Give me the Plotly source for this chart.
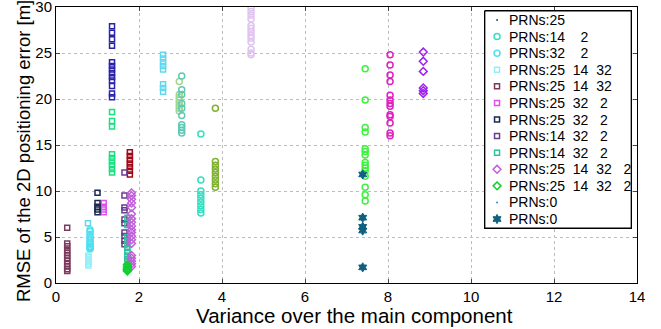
import plotly.graph_objects as go

NB = "\u00a0"

# ---- data ----
# series that appear in the legend
x_prn25 = []
y_prn25 = []
x_prn14_2 = [3.49] * 9
y_prn14_2 = [16.2, 11.2, 10.0, 9.6, 9.2, 8.8, 8.4, 8.0, 7.6]
x_prn32_2 = [0.82] * 12
y_prn32_2 = [5.8, 5.6, 5.3, 5.0, 4.8, 4.6, 4.4, 4.2, 4.0, 3.9, 3.8, 3.7]
x_prn25_14_32a = [0.78] * 6
y_prn25_14_32a = [3.0, 2.8, 2.6, 2.3, 2.1, 1.9]
x_prn25_14_32b = [0.27] * 12
y_prn25_14_32b = [6.0, 4.3, 4.0, 3.6, 3.3, 3.0, 2.7, 2.4, 2.1, 1.8, 1.5, 1.3]
x_prn25_32_2a = [1.15] * 4
y_prn25_32_2a = [8.7, 8.3, 8.0, 7.7]
x_prn25_32_2b = [1.0] * 5
y_prn25_32_2b = [9.8, 8.7, 8.3, 8.0, 7.7]
x_prn14_32_2a = [1.65] * 10
y_prn14_32_2a = [12.0, 9.5, 8.2, 7.9, 6.9, 6.5, 5.5, 5.1, 4.6, 4.2]
x_prn14_32_2b = [1.72] * 10
y_prn14_32_2b = [7.1, 6.3, 5.0, 4.6, 4.2, 3.8, 3.4, 3.0, 2.6, 2.3]
x_prn_all_a = [1.82] * 19
y_prn_all_a = [9.8, 9.5, 9.1, 8.7, 8.2, 7.5, 7.0, 6.6, 6.2, 5.8, 5.5, 5.1, 4.7,
               4.3, 3.0, 2.7, 2.4, 2.1, 1.8]
x_prn_all_b = [1.72] * 6
y_prn_all_b = [2.0, 1.8, 1.6, 1.5, 1.4, 1.3]
x_prn0a = []
y_prn0a = []
x_prn0b = [7.39] * 5
y_prn0b = [11.8, 7.1, 6.1, 5.7, 1.7]

# series without a legend entry
x_blue_sq = [1.35] * 13
y_blue_sq = [27.9, 27.2, 26.5, 25.8, 24.0, 23.6, 23.2, 22.8, 22.4, 22.0, 21.4, 20.6, 20.2]
x_green_sq = [1.35] * 9
y_green_sq = [18.6, 17.6, 17.0, 14.0, 13.6, 13.2, 12.8, 12.4, 12.0]
x_red_sq = [1.78] * 7
y_red_sq = [14.2, 13.8, 13.4, 13.0, 12.6, 12.2, 11.8]
x_lcyan_sq = [2.58] * 8 + [0.77]
y_lcyan_sq = [24.8, 24.4, 24.0, 23.6, 23.2, 21.6, 21.2, 20.8, 6.5]
x_lgreen_c = [2.97] * 8
y_lgreen_c = [21.9, 20.5, 20.2, 19.9, 19.6, 19.3, 19.0, 18.7]
x_teal_c = [3.03] * 10
y_teal_c = [22.5, 21.0, 20.5, 19.5, 19.0, 18.2, 17.2, 16.9, 16.6, 16.3]
x_olive_c = [3.84] * 9
y_olive_c = [19.0, 13.2, 12.8, 12.4, 12.0, 11.6, 11.2, 10.8, 10.4]
x_lav_c = [4.70] * 13
y_lav_c = [29.9, 29.5, 29.1, 28.7, 28.0, 27.7, 27.3, 26.9, 26.6, 26.2, 25.4, 25.0, 24.8]
x_green_c = [7.45] * 15
y_green_c = [23.3, 19.9, 16.9, 16.4, 14.6, 14.3, 13.9, 13.1, 12.8, 12.5, 12.2, 11.6,
             10.4, 9.6, 8.9]
x_mag_c = [8.05] * 13
y_mag_c = [24.8, 23.7, 22.6, 21.9, 20.4, 19.9, 19.5, 19.2, 18.3, 18.1, 17.4, 16.3, 16.0]
x_purp_d = [8.85] * 6
y_purp_d = [25.1, 24.1, 23.0, 21.2, 20.9, 20.6]

x_ticks = [0, 2, 4, 6, 8, 10, 12, 14]
y_ticks = [0, 5, 10, 15, 20, 25, 30]
x_title = "Variance over the main component"
y_title = "RMSE of the 2D positioning error [m]"


def lab(*parts_gaps):
    out = ""
    for p in parts_gaps:
        out += NB * p if isinstance(p, int) else p
    return out


# (x, y, legend label or None, color, symbol, size, line width)
unlabelled = [
    (x_blue_sq, y_blue_sq, None, "#2a22a8", "square-open", 5, 1.5),
    (x_green_sq, y_green_sq, None, "#18e080", "square-open", 5, 1.5),
    (x_red_sq, y_red_sq, None, "#a00818", "square-open", 5, 1.5),
    (x_lcyan_sq, y_lcyan_sq, None, "#62d8f0", "square-open", 5, 1.5),
    (x_lgreen_c, y_lgreen_c, None, "#a0d890", "circle-open", 6, 1.5),
    (x_teal_c, y_teal_c, None, "#60c8b4", "circle-open", 6, 1.5),
    (x_olive_c, y_olive_c, None, "#80b030", "circle-open", 6, 1.5),
    (x_lav_c, y_lav_c, None, "#e0c4f0", "circle-open", 6, 1.5),
    (x_green_c, y_green_c, None, "#40f040", "circle-open", 6, 1.5),
    (x_mag_c, y_mag_c, None, "#e020c0", "circle-open", 6, 1.5),
    (x_purp_d, y_purp_d, None, "#a020f0", "diamond-open", 6, 1.5),
]
labelled = [
    (x_prn25, y_prn25, lab("PRNs:25"), "#205058", "circle", 2, 0),
    (x_prn14_2, y_prn14_2, lab("PRNs:14", 4, "2"), "#30e0c0", "circle-open", 6, 1.5),
    (x_prn32_2, y_prn32_2, lab("PRNs:32", 4, "2"), "#50e0f0", "circle-open", 6, 1.5),
    (x_prn25_14_32a, y_prn25_14_32a, lab("PRNs:25", 2, "14", 2, "32"), "#94eef8", "square-open", 5, 1.5),
    (x_prn25_14_32b, y_prn25_14_32b, lab("PRNs:25", 2, "14", 2, "32"), "#7b3a5c", "square-open", 5, 1.5),
    (x_prn25_32_2a, y_prn25_32_2a, lab("PRNs:25", 2, "32", 3, "2"), "#e050f0", "square-open", 5, 1.5),
    (x_prn25_32_2b, y_prn25_32_2b, lab("PRNs:25", 2, "32", 3, "2"), "#1c2850", "square-open", 5, 1.5),
    (x_prn14_32_2a, y_prn14_32_2a, lab("PRNs:14", 2, "32", 3, "2"), "#6a3c90", "square-open", 5, 1.5),
    (x_prn14_32_2b, y_prn14_32_2b, lab("PRNs:14", 2, "32", 3, "2"), "#30c0a0", "square-open", 5, 1.5),
    (x_prn_all_a, y_prn_all_a, lab("PRNs:25", 2, "14", 2, "32", 3, "2"), "#c060d8", "diamond-open", 6, 1.5),
    (x_prn_all_b, y_prn_all_b, lab("PRNs:25", 2, "14", 2, "32", 3, "2"), "#10d030", "diamond-open", 6, 1.5),
    (x_prn0a, y_prn0a, lab("PRNs:0"), "#3090c0", "circle", 2, 0),
    (x_prn0b, y_prn0b, lab("PRNs:0"), "#106080", "hexagram", 7, 1),
]

fig = go.Figure()
for (x, y, name, color, symbol, size, lw) in unlabelled + labelled:
    fig.add_trace(go.Scatter(
        x=x, y=y, mode="markers", name=name or "", showlegend=False,
        marker=dict(symbol=symbol, size=size, color=color,
                    line=dict(color=color, width=lw)),
    ))

# ---- MATLAB-style legend box, drawn on its own small axis pair ----
n_leg = len(labelled)
leg_x0, leg_x1 = 0.7367, 0.9914
leg_y0, leg_y1 = 0.1957, 0.989
ytop, ybot = -0.6, (n_leg - 1) + 0.6
fig.add_trace(go.Scatter(
    x=[0.004, 0.996, 0.996, 0.004, 0.004],
    y=[ytop + 0.05, ytop + 0.05, ybot - 0.05, ybot - 0.05, ytop + 0.05],
    xaxis="x2", yaxis="y2", mode="lines", fill="toself", fillcolor="white",
    line=dict(color="black", width=1.5), showlegend=False, hoverinfo="skip",
))
for i, (x, y, name, color, symbol, size, lw) in enumerate(labelled):
    fig.add_trace(go.Scatter(
        x=[0.088], y=[i], xaxis="x2", yaxis="y2", mode="markers",
        showlegend=False, hoverinfo="skip",
        marker=dict(symbol=symbol, size=size, color=color,
                    line=dict(color=color, width=lw)),
    ))
    fig.add_annotation(
        x=0.155, y=i, xref="x2", yref="y2", text=name, showarrow=False,
        xanchor="left", yanchor="middle", font=dict(size=14, color="black"),
    )

# axis titles, placed like the MATLAB labels
fig.add_annotation(x=0.513, y=-0.118, xref="paper", yref="paper", text=x_title,
                   showarrow=False, xanchor="center", yanchor="middle",
                   font=dict(size=20.5, color="black"))
fig.add_annotation(x=-0.0568, y=0.478, xref="paper", yref="paper", text=y_title,
                   textangle=-90, showarrow=False, xanchor="center", yanchor="middle",
                   font=dict(size=18.5, color="black"))

fig.update_layout(
    width=661, height=329,
    margin=dict(l=56, r=24, t=7, b=46, autoexpand=False),
    plot_bgcolor="white", paper_bgcolor="white",
    font=dict(family="Liberation Sans, Arial, sans-serif", size=15, color="black"),
    showlegend=False,
    xaxis=dict(
        range=[0, 14], tickvals=x_ticks, ticks="inside", ticklen=4,
        showline=True, linecolor="black", linewidth=1, mirror="ticks",
        showgrid=True, gridcolor="#bdbdbd", griddash="dot", gridwidth=1,
        zeroline=False, tickfont=dict(size=15), ticklabeloverflow="allow",
        automargin=False,
    ),
    yaxis=dict(
        range=[0, 30], tickvals=y_ticks, ticks="inside", ticklen=4,
        showline=True, linecolor="black", linewidth=1, mirror="ticks",
        showgrid=True, gridcolor="#bdbdbd", griddash="dot", gridwidth=1,
        zeroline=False, tickfont=dict(size=15), ticklabeloverflow="allow",
        automargin=False,
    ),
    xaxis2=dict(domain=[leg_x0, leg_x1], range=[0, 1], anchor="y2",
                visible=False, fixedrange=True, automargin=False),
    yaxis2=dict(domain=[leg_y0, leg_y1], range=[ybot, ytop], anchor="x2",
                visible=False, fixedrange=True, automargin=False),
)

fig.write_html(
    "out.html",
    config={"displayModeBar": False},
    post_script="document.body.style.margin='0';document.body.style.overflow='hidden';",
)
